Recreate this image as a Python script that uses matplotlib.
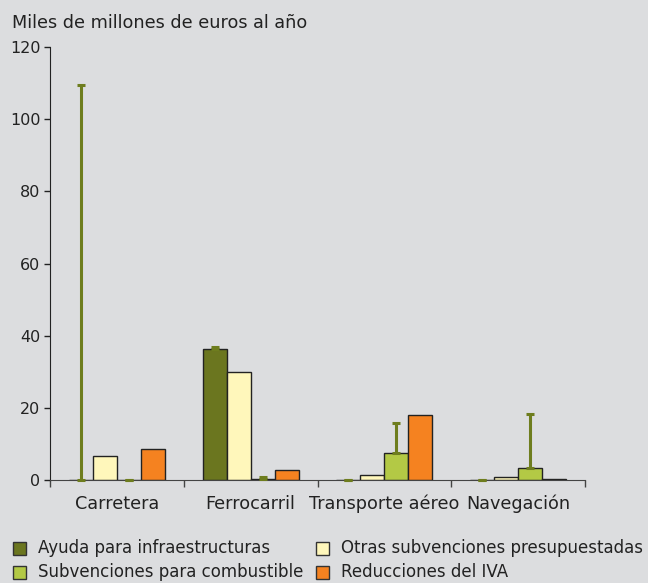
import matplotlib
matplotlib.use("Agg")
import matplotlib.pyplot as plt
import numpy as np
from matplotlib.patches import Rectangle

categories = ["Carretera", "Ferrocarril", "Transporte aéreo", "Navegación"]
series_names = ["Ayuda para infraestructuras", "Otras subvenciones presupuestadas",
                "Subvenciones para combustible", "Reducciones del IVA"]
ayuda = [0.0, 36.2, 0.0, 0.0]
otras = [6.7, 30.0, 1.3, 0.9]
combustible = [0.0, 0.3, 7.4, 3.2]
iva = [8.7, 2.7, 17.9, 0.2]
# upper ends of the error bars
ayuda_upper = [109.5, 36.8, 0.0, 0.0]
combustible_upper = [0.0, 0.9, 15.8, 18.3]
yticks = [0, 20, 40, 60, 80, 100, 120]

colors = ["#6b761f", "#fff7bb", "#b3c945", "#f58220"]
err_color = "#6e7d1e"
bg = "#dcdddf"
txt = "#222222"

W, H = 648, 583
fig = plt.figure(figsize=(W/100, H/100), dpi=100, facecolor=bg)
ax = fig.add_axes([50/W, 1-480/H, 535/W, 433/H])
ax.set_facecolor(bg)

x = np.arange(len(categories))
w = 0.179
offsets = [-1.5*w, -0.5*w, 0.5*w, 1.5*w]
data = [ayuda, otras, combustible, iva]
for i, (vals, c) in enumerate(zip(data, colors)):
    ax.bar(x + offsets[i], vals, width=w, color=c, edgecolor="#222222",
           linewidth=1.0, zorder=2)

def draw_err(pos, vals, uppers):
    for xi, v, u in zip(pos, vals, uppers):
        ax.errorbar([xi], [v], yerr=[[0], [u - v]], fmt="none",
                    ecolor=err_color, elinewidth=2.2, capsize=2.8,
                    capthick=2.2, zorder=3, clip_on=False)

draw_err(x + offsets[0], ayuda, ayuda_upper)
draw_err(x + offsets[2], combustible, combustible_upper)

ax.set_xlim(-0.5, len(categories) - 0.5)
ax.set_ylim(0, 120)
ax.set_yticks(yticks)
ax.set_yticklabels([str(t) for t in yticks], fontsize=11.5, color=txt)
ax.set_xticks(np.arange(len(categories) + 1) - 0.5)
ax.set_xticklabels([])
ax.tick_params(axis="x", length=5, width=1, color="#444444")
ax.tick_params(axis="y", length=4, width=1, color=txt, pad=3)
for xi, cat in zip(x, categories):
    ax.text(xi, -6.6, cat, ha="center", va="center", fontsize=12.7, color=txt)
for s in ["top", "right"]:
    ax.spines[s].set_visible(False)
ax.spines["left"].set_color(txt)
ax.spines["bottom"].set_color("#444444")

fig.text(12/W, 1-23/H, "Miles de millones de euros al año", fontsize=12.7,
         ha="left", va="center", color=txt)

# legend, laid out in two columns
order = [0, 2, 1, 3]
col_x = [13, 316]
row_y = [548, 572]
sq = 13
for k, i in enumerate(order):
    cx = col_x[k // 2]
    cy = row_y[k % 2]
    fig.patches.append(Rectangle((cx/W, 1-(cy+sq/2)/H), sq/W, sq/H,
                                 transform=fig.transFigure, facecolor=colors[i],
                                 edgecolor="#333333", linewidth=1.0))
    fig.text((cx+25)/W, 1-cy/H, series_names[i], fontsize=12, ha="left",
             va="center", color=txt)

fig.savefig("out.png", dpi=100, facecolor=bg)
